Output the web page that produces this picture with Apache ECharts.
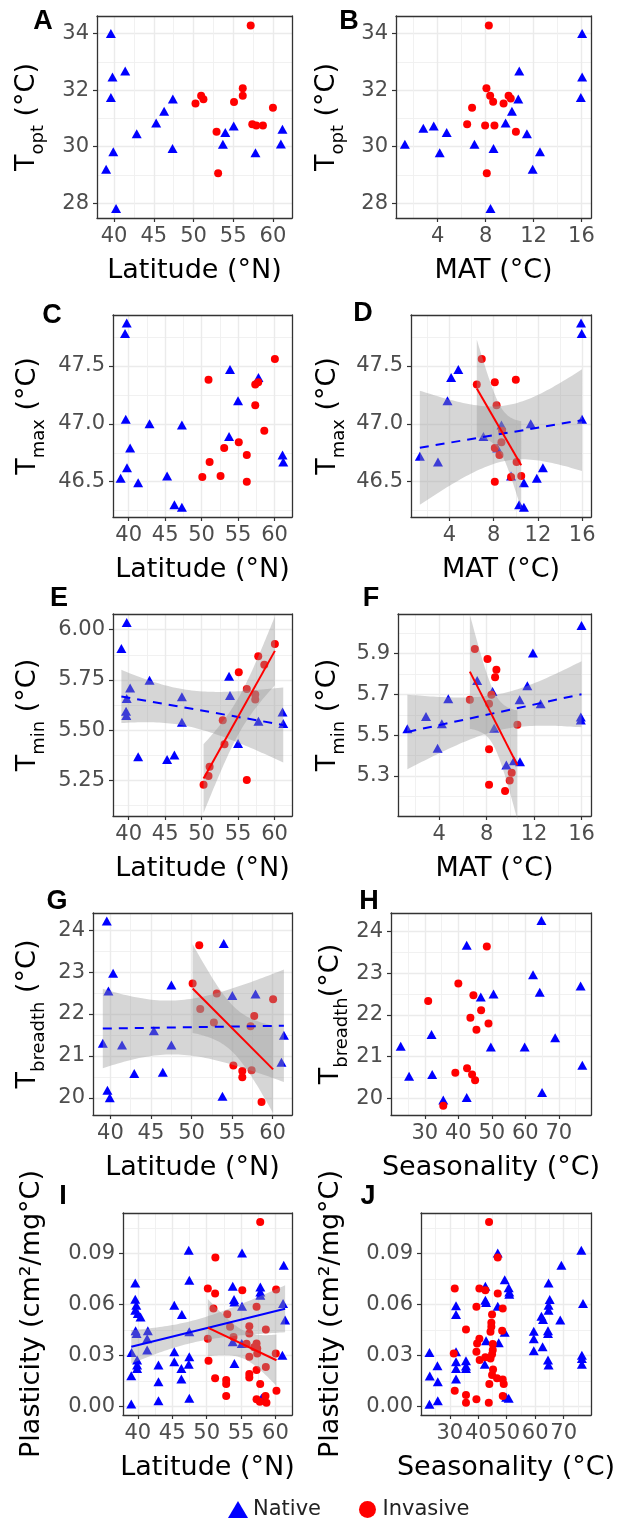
<!DOCTYPE html>
<html>
<head>
<meta charset="utf-8">
<script src="https://cdn.jsdelivr.net/npm/echarts@6/dist/echarts.min.js"></script>
<style>html,body{margin:0;padding:0;background:#fff}#show{width:624px;height:1522px}</style>
</head>
<body>
<div id="show"></div>
<script>
var myChart = echarts.init(document.getElementById("show"));
var FONT = "'DejaVu Sans', sans-serif";
var BOLD = "'Liberation Sans', Arial, sans-serif";

// tick labels
var latTicks = [40, 45, 50, 55, 60];
var matTicks = [4, 8, 12, 16];
var seasTicks = [30, 40, 50, 60, 70];
var toptTicks = [28, 30, 32, 34];
var tmaxTicks = [46.5, 47.0, 47.5];
var tminLatTicks = [5.25, 5.50, 5.75, 6.00];
var tminMatTicks = [5.3, 5.5, 5.7, 5.9];
var tbreadthTicks = [20, 21, 22, 23, 24];
var plastTicks = [0.00, 0.03, 0.06, 0.09];

// A: Topt ~ latitude
var toptLatNative = [[39.6,34.0],[39.8,32.46],[41.4,32.68],[39.6,31.74],[39.9,29.82],[39.0,29.2],[40.25,27.82],[42.85,30.46],[45.3,30.84],[46.3,31.25],[47.4,31.69],[47.36,29.94],[54.0,30.5],[53.7,30.09],[55.06,30.73],[57.8,29.79],[61.2,30.62],[61.0,30.1]];
var toptLatInvasive = [[50.25,31.53],[50.96,31.8],[51.25,31.68],[52.9,30.53],[53.1,29.06],[55.1,31.58],[56.2,32.07],[56.2,31.8],[57.2,34.28],[57.4,30.79],[57.9,30.75],[58.74,30.75],[60.0,31.38]];
// B: Topt ~ MAT
var toptMatNative = [[1.26,30.09],[2.8,30.65],[3.67,30.73],[4.75,30.5],[4.17,29.79],[7.07,30.09],[8.66,29.94],[8.41,27.82],[9.67,30.84],[10.2,31.25],[10.73,31.69],[10.81,32.68],[11.45,30.46],[12.54,29.82],[11.93,29.2],[15.95,31.74],[16.06,32.46],[16.06,34.0]];
var toptMatInvasive = [[8.27,34.28],[8.07,32.07],[8.38,31.8],[8.63,31.59],[9.5,31.53],[9.92,31.8],[10.1,31.7],[6.87,31.38],[6.46,30.79],[7.96,30.75],[8.74,30.75],[10.53,30.53],[8.1,29.06]];
// C: Tmax ~ latitude
var tmaxLatNative = [[39.73,47.87],[39.5,47.78],[39.6,47.04],[38.9,46.53],[39.77,46.62],[40.2,46.79],[41.3,46.49],[42.86,47.0],[45.27,46.55],[46.27,46.3],[47.3,46.28],[47.3,46.99],[53.9,47.47],[53.77,46.89],[55.0,47.2],[57.8,47.4],[61.1,46.73],[61.2,46.67]];
var tmaxLatInvasive = [[50.95,47.38],[50.1,46.54],[51.1,46.67],[52.6,46.55],[53.1,46.79],[55.1,46.84],[56.2,46.73],[56.2,46.5],[57.36,47.16],[57.36,47.34],[57.77,47.36],[58.6,46.94],[60.05,47.56]];
// D: Tmax ~ MAT
var tmaxMatNative = [[1.32,46.72],[2.96,46.67],[3.82,47.2],[4.15,47.4],[4.8,47.47],[7.07,46.89],[8.32,46.79],[8.7,46.99],[9.57,46.55],[10.3,46.3],[10.73,46.28],[10.73,46.49],[11.35,47.0],[11.9,46.53],[12.45,46.62],[15.9,47.87],[15.96,47.78],[15.99,47.04]];
var tmaxMatInvasive = [[6.92,47.56],[6.47,47.34],[8.1,47.36],[10.0,47.38],[8.26,47.16],[8.76,46.94],[8.7,46.84],[8.1,46.79],[8.52,46.73],[10.07,46.67],[10.49,46.55],[9.57,46.54],[8.1,46.5]];
// E: Tmin ~ latitude
var tminLatNative = [[39.73,6.036],[39.0,5.906],[40.2,5.71],[42.86,5.748],[39.73,5.657],[39.64,5.594],[39.68,5.573],[41.3,5.368],[45.27,5.354],[46.27,5.376],[47.3,5.666],[47.3,5.54],[53.77,5.768],[53.9,5.672],[55.0,5.434],[57.8,5.545],[61.1,5.59],[61.2,5.533]];
var tminLatInvasive = [[50.27,5.228],[50.95,5.272],[51.1,5.318],[52.9,5.55],[53.14,5.43],[55.1,5.788],[56.2,5.705],[56.2,5.252],[57.36,5.677],[57.36,5.652],[57.77,5.868],[58.6,5.826],[60.05,5.929]];
// F: Tmin ~ MAT
var tminMatNative = [[1.31,5.531],[2.88,5.592],[3.86,5.436],[4.22,5.556],[4.76,5.679],[7.2,5.769],[8.49,5.715],[8.63,5.534],[9.66,5.354],[10.3,5.374],[10.81,5.37],[10.78,5.674],[11.43,5.743],[11.9,5.903],[12.55,5.654],[16.0,6.038],[15.94,5.589],[15.94,5.575]];
var tminMatInvasive = [[7.0,5.923],[8.07,5.874],[8.82,5.821],[8.71,5.785],[6.58,5.674],[8.2,5.654],[8.4,5.698],[10.59,5.551],[8.2,5.431],[8.2,5.256],[10.11,5.316],[9.94,5.277],[9.55,5.226]];
// G: Tbreadth ~ latitude
var tbLatNative = [[39.55,24.22],[40.33,22.97],[39.75,22.55],[39.06,21.3],[39.63,20.18],[39.92,20.0],[41.43,21.26],[42.94,20.58],[45.36,21.6],[46.46,20.61],[47.52,22.69],[47.52,21.26],[53.98,23.68],[53.82,20.04],[55.04,22.44],[57.9,22.48],[61.4,21.49],[61.1,20.85]];
var tbLatInvasive = [[50.96,23.64],[50.14,22.73],[51.08,22.12],[53.12,22.49],[52.76,21.8],[55.17,20.77],[56.27,20.64],[56.27,20.49],[57.74,21.95],[57.29,21.71],[57.42,20.66],[58.64,19.9],[60.07,22.35]];
// H: Tbreadth ~ seasonality
var tbSeasNative = [[22.8,21.25],[25.3,20.53],[32.0,21.53],[32.2,20.57],[35.5,19.96],[42.5,23.67],[42.5,20.02],[46.7,22.43],[50.5,22.5],[49.7,21.23],[59.8,21.23],[62.3,22.96],[64.3,22.54],[64.8,24.26],[65.0,20.14],[68.9,21.45],[76.5,22.69],[77.0,20.79]];
var tbSeasInvasive = [[48.5,23.64],[40.0,22.75],[31.0,22.33],[44.5,22.47],[46.8,22.11],[43.6,21.93],[49.0,21.79],[45.4,21.64],[42.6,20.72],[39.1,20.61],[44.1,20.57],[45.0,20.43],[35.5,19.82]];
// I: plasticity ~ latitude
var plastLatNative = [[39.05,0.0016],[39.05,0.0182],[39.1,0.0319],[39.63,0.0728],[39.63,0.0632],[39.78,0.0597],[39.63,0.0567],[40.0,0.0548],[40.4,0.0528],[39.68,0.0446],[39.82,0.043],[39.9,0.0274],[39.9,0.0245],[39.9,0.0225],[41.46,0.0446],[41.36,0.04],[41.36,0.0333],[43.0,0.0245],[43.0,0.0147],[43.0,0.0035],[45.3,0.0597],[45.3,0.0323],[45.3,0.0264],[46.4,0.0542],[46.33,0.0225],[46.33,0.0162],[47.4,0.092],[47.48,0.0743],[47.48,0.044],[47.48,0.0293],[47.4,0.025],[47.48,0.0049],[55.14,0.0904],[53.79,0.0708],[53.98,0.063],[54.03,0.0616],[55.14,0.0591],[53.79,0.0382],[54.03,0.0254],[55.1,0.0372],[57.8,0.0704],[57.8,0.0675],[57.8,0.0655],[57.97,0.0049],[61.2,0.0832],[61.1,0.0607],[61.4,0.0509],[61.0,0.0303]];
var plastLatInvasive = [[57.78,0.1086],[51.27,0.0877],[50.17,0.0695],[51.23,0.0665],[55.18,0.0685],[50.99,0.0577],[53.0,0.0544],[57.25,0.0587],[60.09,0.0689],[50.17,0.04],[50.27,0.027],[51.23,0.0167],[52.84,0.0157],[52.84,0.0133],[52.84,0.0063],[56.2,0.0473],[56.2,0.043],[56.2,0.0293],[56.2,0.0192],[56.2,0.0172],[57.25,0.0372],[57.35,0.0342],[57.35,0.0313],[57.25,0.0215],[57.78,0.0133],[57.25,0.0043],[57.73,0.0029],[58.55,0.0063],[58.69,0.0023],[58.6,0.0454],[58.6,0.0233],[60.04,0.0313],[60.14,0.0094],[53.4,0.047],[53.9,0.041],[55.8,0.037],[56.9,0.035]];
// J: plasticity ~ seasonality
var plastSeasNative = [[22.87,0.0319],[22.98,0.018],[22.87,0.0014],[25.67,0.0241],[25.8,0.0147],[25.8,0.0035],[32.2,0.0593],[32.2,0.0542],[32.2,0.0323],[32.2,0.0264],[32.2,0.0225],[32.2,0.0162],[35.7,0.027],[35.7,0.0239],[35.7,0.0225],[42.5,0.0708],[42.5,0.0626],[42.75,0.0612],[42.75,0.0387],[42.3,0.025],[46.85,0.0904],[46.85,0.0591],[47.2,0.0376],[49.3,0.0747],[50.7,0.07],[50.9,0.0675],[50.9,0.0661],[49.3,0.0438],[49.8,0.0055],[50.7,0.0049],[59.5,0.0444],[59.5,0.04],[59.5,0.0329],[62.2,0.0532],[62.75,0.0513],[62.6,0.0352],[64.7,0.0728],[65.1,0.063],[64.7,0.0597],[64.7,0.0567],[64.5,0.0446],[64.5,0.043],[64.5,0.0274],[64.7,0.0245],[69.2,0.0832],[68.8,0.0509],[76.2,0.092],[76.8,0.0607],[76.4,0.0303],[76.4,0.0284],[76.4,0.0249]];
var plastSeasInvasive = [[43.8,0.1086],[46.85,0.0877],[31.75,0.0695],[40.4,0.0695],[42.5,0.0685],[46.85,0.0665],[39.36,0.0587],[48.6,0.0577],[44.85,0.0542],[44.6,0.0493],[44.6,0.047],[44.3,0.044],[48.4,0.0446],[35.7,0.0454],[40.4,0.04],[39.6,0.0372],[39.36,0.0323],[45.1,0.0368],[45.1,0.0333],[44.85,0.0309],[44.3,0.0284],[31.4,0.0313],[40.5,0.0274],[45.2,0.0219],[44.85,0.0186],[43.9,0.0133],[46.6,0.0167],[48.6,0.016],[48.95,0.0133],[31.75,0.0094],[35.7,0.0068],[35.7,0.0023],[39.36,0.0043],[43.7,0.0023],[48.6,0.0063],[42.5,0.029]];

var BLUE = '#0000FF', RED = '#FF0000';
var latRange = [37.85, 62.4], matRange = [0.52, 16.8], seasRange = [19.9, 79.6];

function sub(s, gap) { return '{t|T}{s|' + s + '}{t|' + (gap ? ' ' : '') + '(°C)}'; }

var panels = [
    {k: 'A', left: 97, top: 16, width: 195, xr: latRange, yr: [27.48, 34.62], xt: latTicks, yt: toptTicks, yd: 0, xName: 'Latitude (°N)', yName: sub('opt', true), yGap: 52, nat: toptLatNative, inv: toptLatInvasive, lp: [43, 22]},
    {k: 'B', left: 396, top: 16, width: 195, xr: matRange, yr: [27.48, 34.62], xt: matTicks, yt: toptTicks, yd: 0, xName: 'MAT (°C)', yName: sub('opt', true), yGap: 51, nat: toptMatNative, inv: toptMatInvasive, lp: [349, 22]},
    {k: 'C', left: 113, top: 315, width: 179, xr: latRange, yr: [46.195, 47.94], xt: latTicks, yt: tmaxTicks, yd: 1, xName: 'Latitude (°N)', yName: sub('max', true), yGap: 67, nat: tmaxLatNative, inv: tmaxLatInvasive, lp: [52, 316]},
    {k: 'D', left: 411, top: 315, width: 180, xr: matRange, yr: [46.195, 47.94], xt: matTicks, yt: tmaxTicks, yd: 1, xName: 'MAT (°C)', yName: sub('max', true), yGap: 65, nat: tmaxMatNative, inv: tmaxMatInvasive, lp: [363, 314], fitN: 'dashed', fitI: 'solid'},
    {k: 'E', left: 113, top: 614, width: 179, xr: latRange, yr: [5.073, 6.078], xt: latTicks, yt: tminLatTicks, yd: 2, xName: 'Latitude (°N)', yName: sub('min', true), yGap: 67, nat: tminLatNative, inv: tminLatInvasive, lp: [59, 599], fitN: 'dashed', fitI: 'solid'},
    {k: 'F', left: 398, top: 614, width: 193, xr: matRange, yr: [5.103, 6.095], xt: matTicks, yt: tminMatTicks, yd: 1, xName: 'MAT (°C)', yName: sub('min', true), yGap: 52, nat: tminMatNative, inv: tminMatInvasive, lp: [371, 599], fitN: 'dashed', fitI: 'solid'},
    {k: 'G', left: 93, top: 913, width: 199, xr: latRange, yr: [19.59, 24.41], xt: latTicks, yt: tbreadthTicks, yd: 0, xName: 'Latitude (°N)', yName: sub('breadth', true), yGap: 47, nat: tbLatNative, inv: tbLatInvasive, lp: [57, 902], fitN: 'dashed', fitI: 'solid'},
    {k: 'H', left: 391, top: 913, width: 200, xr: seasRange, yr: [19.6, 24.44], xt: seasTicks, yt: tbreadthTicks, yd: 0, xName: 'Seasonality (°C)', yName: sub('breadth', false), yGap: 42, nat: tbSeasNative, inv: tbSeasInvasive, lp: [369, 902]},
    {k: 'I', left: 123, top: 1213, width: 169, xr: latRange, yr: [-0.0049, 0.1139], xt: latTicks, yt: plastTicks, yd: 2, xName: 'Latitude (°N)', yName: '{t|Plasticity (cm²/mg°C)}', yGap: 73, nat: plastLatNative, inv: plastLatInvasive, lp: [63, 1197], fitN: 'solid', fitI: 'solid'},
    {k: 'J', left: 421, top: 1213, width: 170, xr: seasRange, yr: [-0.0049, 0.1139], xt: seasTicks, yt: plastTicks, yd: 2, xName: 'Seasonality (°C)', yName: '{t|Plasticity (cm²/mg°C)}', yGap: 72, nat: plastSeasNative, inv: plastSeasInvasive, lp: [368, 1197]}
];

// gridlines halfway between the labelled ticks
function minorsOf(ticks, range) {
    var step = ticks[1] - ticks[0], out = [];
    for (var v = ticks[0] - step / 2; v <= range[1]; v += step) {
        if (v >= range[0]) out.push(+v.toFixed(6));
    }
    return out;
}

// 97.5% quantile of t (Cornish-Fisher)
function tQuant(df) {
    var z = 1.959964, z3 = z * z * z, z5 = z3 * z * z, z7 = z5 * z * z;
    return z + (z3 + z) / (4 * df) + (5 * z5 + 16 * z3 + 3 * z) / (96 * df * df)
        + (3 * z7 + 19 * z5 + 17 * z3 - 15 * z) / (384 * df * df * df);
}

// linear model with 95% confidence band, like geom_smooth(method = "lm")
function lmFit(pts) {
    var n = pts.length, mx = 0, my = 0, sxx = 0, sxy = 0, sse = 0;
    var x0 = Infinity, x1 = -Infinity;
    pts.forEach(function (p) { mx += p[0]; my += p[1]; x0 = Math.min(x0, p[0]); x1 = Math.max(x1, p[0]); });
    mx /= n; my /= n;
    pts.forEach(function (p) { sxx += (p[0] - mx) * (p[0] - mx); sxy += (p[0] - mx) * (p[1] - my); });
    var b = sxy / sxx, a = my - b * mx;
    pts.forEach(function (p) { var r = p[1] - a - b * p[0]; sse += r * r; });
    var s = Math.sqrt(sse / (n - 2)), t = tQuant(n - 2);
    var band = [];
    for (var k = 0; k <= 60; k++) {
        var x = x0 + (x1 - x0) * k / 60, yh = a + b * x;
        var hw = t * s * Math.sqrt(1 / n + (x - mx) * (x - mx) / sxx);
        band.push([x, yh - hw, yh + hw]);
    }
    return {line: [[x0, a + b * x0], [x1, a + b * x1]], band: band};
}

var tickColor = '#333333';
function majorAxis(dim, i, range, ticks, dec, name, gap) {
    var rich = {
        t: {fontSize: 27, lineHeight: 32, verticalAlign: 'top', fontFamily: FONT, color: '#000'},
        s: {fontSize: 18, lineHeight: 18, padding: [16, 0, 0, 0], verticalAlign: 'top', fontFamily: FONT, color: '#000'}
    };
    return {
        type: 'value', gridIndex: i, min: range[0], max: range[1],
        position: dim === 'x' ? 'bottom' : 'left',
        axisLine: {show: true, onZero: false, lineStyle: {color: tickColor, width: 1.3}},
        axisTick: {show: true, length: 4, customValues: ticks, lineStyle: {color: tickColor, width: 1.2}},
        axisLabel: {
            customValues: ticks, color: '#4D4D4D', fontSize: 21, fontFamily: FONT, margin: 8,
            formatter: function (v) { return v.toFixed(dec); }
        },
        splitLine: {show: true, lineStyle: {color: '#EBEBEB', width: 1.4}},
        name: name, nameLocation: 'middle', nameGap: gap,
        nameTextStyle: {fontSize: 27, fontFamily: FONT, color: '#000', rich: rich}
    };
}
function minorAxis(dim, i, range, vals) {
    return {
        type: 'value', gridIndex: i, min: range[0], max: range[1],
        position: dim === 'x' ? 'top' : 'right',
        axisLine: {show: true, onZero: false, lineStyle: {color: tickColor, width: 1.3}},
        axisTick: {show: false, customValues: vals},
        axisLabel: {show: false, customValues: vals},
        splitLine: {show: true, lineStyle: {color: '#EFEFEF', width: 0.9}}
    };
}

var grids = [], xAxes = [], yAxes = [], series = [], letters = [];
panels.forEach(function (p, i) {
    grids.push({left: p.left, top: p.top, width: p.width, height: 202});
    xAxes.push(majorAxis('x', i, p.xr, p.xt, 0, p.xName, 39));
    xAxes.push(minorAxis('x', i, p.xr, minorsOf(p.xt, p.xr)));
    yAxes.push(majorAxis('y', i, p.yr, p.yt, p.yd, p.yName, p.yGap));
    yAxes.push(minorAxis('y', i, p.yr, minorsOf(p.yt, p.yr)));
    var xi = 2 * i, yi = 2 * i;
    series.push({
        type: 'scatter', name: 'Native', xAxisIndex: xi, yAxisIndex: yi, data: p.nat,
        symbol: 'triangle', symbolSize: [10, 9], itemStyle: {color: BLUE, opacity: 1}, z: 2, silent: true
    });
    series.push({
        type: 'scatter', name: 'Invasive', xAxisIndex: xi, yAxisIndex: yi, data: p.inv,
        symbol: 'circle', symbolSize: 8, itemStyle: {color: RED, opacity: 1}, z: 2, silent: true
    });
    [[p.fitN, p.nat, BLUE], [p.fitI, p.inv, RED]].forEach(function (f) {
        if (!f[0]) return;
        var fit = lmFit(f[1]);
        series.push({
            type: 'custom', xAxisIndex: xi, yAxisIndex: yi, z: 3, silent: true, data: fit.band,
            renderItem: function (params, api) {
                if (params.dataIndex !== 0) return null;
                var up = fit.band.map(function (b) { return api.coord([b[0], b[2]]); });
                var lo = fit.band.slice().reverse().map(function (b) { return api.coord([b[0], b[1]]); });
                return {type: 'polygon', shape: {points: up.concat(lo)}, style: {fill: 'rgba(153,153,153,0.4)'}};
            }
        });
        series.push({
            type: 'line', xAxisIndex: xi, yAxisIndex: yi, data: fit.line, symbol: 'none', z: 4, silent: true,
            lineStyle: {color: f[2], width: 2, type: f[0] === 'dashed' ? [9, 7] : 'solid'}
        });
    });
    letters.push({
        type: 'text', x: p.lp[0], y: p.lp[1], z: 100,
        style: {text: p.k, font: 'bold 27px ' + BOLD, fill: '#000', textAlign: 'center', textVerticalAlign: 'middle'}
    });
});

myChart.setOption({
    animation: false,
    backgroundColor: '#fff',
    grid: grids,
    xAxis: xAxes,
    yAxis: yAxes,
    series: series,
    graphic: letters,
    legend: {
        left: 228, top: 1499, padding: 0, itemWidth: 20, itemHeight: 17, itemGap: 38,
        selectedMode: false,
        itemStyle: {opacity: 1},
        textStyle: {fontSize: 21, fontFamily: FONT, color: '#222'},
        data: [{name: 'Native', icon: 'triangle'}, {name: 'Invasive', icon: 'circle'}]
    }
});
</script>
</body>
</html>
